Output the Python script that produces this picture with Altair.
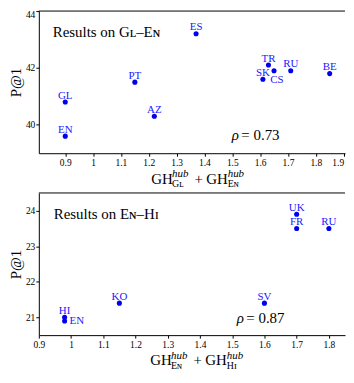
import altair as alt
import pandas as pd

FONT = "Liberation Serif"

# ---- data: top panel (Gl-En) ----
top_langs = ["GL", "EN", "PT", "AZ", "ES", "SK", "TR", "CS", "RU", "BE"]
top_gh = [0.90, 0.90, 1.15, 1.22, 1.37, 1.61, 1.63, 1.65, 1.71, 1.85]
top_p1 = [40.8, 39.6, 41.5, 40.3, 43.2, 41.6, 42.1, 41.9, 41.9, 41.8]
top_xticks = [0.9, 1.0, 1.1, 1.2, 1.3, 1.4, 1.5, 1.6, 1.7, 1.8, 1.9]
top_yticks = [40, 42, 44]

# ---- data: bottom panel (En-Hi) ----
bot_langs = ["HI", "EN", "KO", "SV", "UK", "FR", "RU"]
bot_gh = [0.98, 0.98, 1.15, 1.60, 1.70, 1.70, 1.80]
bot_p1 = [21.0, 20.9, 21.4, 21.4, 23.9, 23.5, 23.5]
bot_xticks = [0.9, 1.0, 1.1, 1.2, 1.3, 1.4, 1.5, 1.6, 1.7, 1.8]
bot_yticks = [21, 22, 23, 24]

one = pd.DataFrame({"k": [0]})
H = 143
W = 308


def txt(s, px, py, size, style="normal", color="black"):
    return alt.Chart(one).mark_text(
        text=s, align="left", baseline="alphabetic", font=FONT,
        fontSize=size, fontStyle=style, color=color
    ).encode(x=alt.value(px), y=alt.value(py))


def panel(langs, gh, p1, xdom, ydom, xticks, yticks, xflush, special, annots):
    df = pd.DataFrame({"lang": langs, "gh": gh, "p1": p1})
    x = alt.X("gh:Q", scale=alt.Scale(domain=xdom, nice=False, zero=False),
              axis=alt.Axis(values=xticks, format=".1~f", title=None,
                            labelFlush=xflush, grid=False, tickSize=3,
                            labelPadding=1, labelFontSize=9.5, labelFont=FONT,
                            labelColor="black", domainColor="black",
                            tickColor="black"))
    y = alt.Y("p1:Q", scale=alt.Scale(domain=ydom, nice=False, zero=False),
              axis=alt.Axis(values=yticks, title="P@1", labelFlush=True,
                            labelFlushOffset=1.5,
                            grid=False, tickSize=3, labelPadding=1,
                            labelFontSize=9.5, labelFont=FONT,
                            labelColor="black", domainColor="black",
                            tickColor="black", titleFont=FONT,
                            titleFontSize=15, titleFontWeight="normal",
                            titleColor="black", titlePadding=2))
    base = alt.Chart(df)
    border = alt.Chart(one).mark_rule(color="black", strokeWidth=1).encode(
        x=alt.value(0), x2=alt.value(W), y=alt.value(0))
    pts = base.mark_circle(size=26, color="#0000ee", opacity=1).encode(x=x, y=y)
    lab = base.transform_filter(
        ~alt.FieldOneOfPredicate(field="lang", oneOf=list(special.keys()))
    ).mark_text(align="center", baseline="alphabetic", dy=-3.5, font=FONT,
                fontSize=11, color="#2020ff").encode(x=x, y=y, text="lang:N")
    layers = [border, pts, lab]
    for name, (al, dx, dy) in special.items():
        layers.append(
            base.transform_filter(alt.datum.lang == name).mark_text(
                align=al, baseline="alphabetic", dx=dx, dy=dy, font=FONT,
                fontSize=11, color="#2020ff").encode(x=x, y=y, text="lang:N"))
    layers += annots
    return alt.layer(*layers).properties(width=W, height=H)


def xtitle(sub1, sub2, x0):
    return [
        txt("GH", x0, H + 30.5, 15),
        txt("hub", x0 + 21, H + 24, 11, "italic"),
        txt(sub1, x0 + 21, H + 34, 10),
        txt("+", x0 + 43.5, H + 30.5, 15),
        txt("GH", x0 + 55.5, H + 30.5, 15),
        txt("hub", x0 + 77, H + 24, 11, "italic"),
        txt(sub2, x0 + 77, H + 34, 10),
    ]


top_annots = [
    txt("Results on Gʟ–Eɴ", 14, 26.5, 15),
    txt("ρ", 194, H - 13, 15, "italic"),
    txt("= 0.73", 203.7, H - 13, 15),
] + xtitle("Gʟ", "Eɴ", 113)

bot_annots = [
    txt("Results on Eɴ–Hɪ", 15, 26.3, 15),
    txt("ρ", 199, H - 12, 15, "italic"),
    txt("= 0.87", 208.7, H - 12, 15),
] + xtitle("Eɴ", "Hɪ", 112)

top = panel(top_langs, top_gh, top_p1, [0.805, 1.905], [39, 44], top_xticks,
            top_yticks, 3, {"CS": ("center", 3, 12)}, top_annots)
bot = panel(bot_langs, bot_gh, bot_p1, [0.9, 1.85], [20.5, 24.5], bot_xticks,
            bot_yticks, False, {"EN": ("left", 5, 3.5)}, bot_annots)

chart = alt.vconcat(top, bot, spacing=40, bounds="flush").properties(
    padding={"left": 0, "top": 0, "right": 0, "bottom": 0}
).configure_view(stroke=None)

chart.save("out.html", embed_options={"renderer": "svg", "actions": False})
